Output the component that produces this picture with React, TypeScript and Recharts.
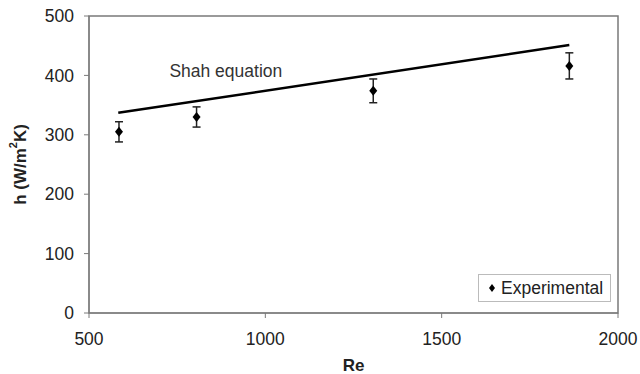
import {
  ComposedChart,
  ErrorBar,
  Legend,
  Line,
  ReferenceArea,
  ReferenceDot,
  Scatter,
  XAxis,
  YAxis,
} from "recharts";

// experimental points
const reValues = [585, 805, 1306, 1862];
const hValues = [305, 330, 374, 416];
const hErrors = [17, 17, 20, 22];

// Shah equation (straight line)
const shahRe = [583, 1862];
const shahH = [337, 451];

const xTicks = [500, 1000, 1500, 2000];
const yTicks = [0, 100, 200, 300, 400, 500];

const expData = reValues.map((re, i) => ({ re, h: hValues[i], err: hErrors[i] }));
const shahData = shahRe.map((re, i) => ({ re, shah: shahH[i] }));

const FONT = "'Liberation Sans', Arial, sans-serif";
const AXIS = "#7a7a7a";
const FS = 17.5;

function YLabel({ viewBox }: any) {
  const cx = 20;
  const cy = viewBox.y + viewBox.height / 2;
  return (
    <text
      x={cx}
      y={cy}
      transform={`rotate(-90, ${cx}, ${cy})`}
      textAnchor="middle"
      dominantBaseline="central"
      fontFamily={FONT}
      fontWeight="bold"
      fontSize={17}
      fill="#222"
    >
      h (W/m
      <tspan fontSize={11} dy={-7}>2</tspan>
      <tspan dy={7}>K)</tspan>
    </text>
  );
}

// small diamond marker
function Diamond({ cx, cy }: any) {
  return <polygon points={`${cx},${cy - 5} ${cx + 4},${cy} ${cx},${cy + 5} ${cx - 4},${cy}`} fill="#000" />;
}

function ExpLegend() {
  return (
    <div
      style={{
        border: "1px solid #bbb",
        background: "#fff",
        width: 133,
        height: 28,
        display: "flex",
        alignItems: "center",
        fontFamily: FONT,
        fontSize: FS,
        color: "#222",
        boxSizing: "border-box",
      }}
    >
      <svg width={22} height={12}>
        <polygon points="13,2 16,6 13,10 10,6" fill="#000" />
      </svg>
      <span>Experimental</span>
    </div>
  );
}

export default function App() {
  return (
    <div style={{ position: "absolute", left: 0, top: 0, background: "#fff" }}>
      <ComposedChart
        width={640}
        height={374}
        data={expData}
        margin={{ top: 16, right: 22, bottom: 0, left: 0 }}
      >
        <XAxis
          dataKey="re"
          type="number"
          domain={[500, 2000]}
          ticks={xTicks}
          height={61}
          stroke={AXIS}
          tickSize={5}
          tickMargin={15}
          tick={{ fill: "#222", fontSize: FS, fontFamily: FONT }}
          label={{
            value: "Re",
            position: "insideBottom",
            offset: 3,
            fill: "#222",
            fontSize: 17,
            fontWeight: "bold",
            fontFamily: FONT,
          }}
        />
        <YAxis
          type="number"
          domain={[0, 500]}
          ticks={yTicks}
          width={89}
          stroke={AXIS}
          tickSize={5}
          tickMargin={10}
          tick={{ fill: "#222", fontSize: FS, fontFamily: FONT }}
          label={<YLabel />}
        />
        <ReferenceArea
          x1={500}
          x2={2000}
          y1={0}
          y2={500}
          fill="none"
          stroke={AXIS}
          strokeWidth={1.5}
          ifOverflow="visible"
        />
        <Line
          data={shahData}
          dataKey="shah"
          type="linear"
          stroke="#000"
          strokeWidth={2.5}
          dot={false}
          isAnimationActive={false}
          legendType="none"
        />
        <Scatter
          dataKey="h"
          fill="#000"
          shape={<Diamond />}
          isAnimationActive={false}
          legendType="diamond"
          name="Experimental"
        >
          <ErrorBar dataKey="err" direction="y" width={4} stroke="#222" strokeWidth={1.5} />
        </Scatter>
        <ReferenceDot
          x={888}
          y={407}
          r={0}
          ifOverflow="visible"
          label={{
            value: "Shah equation",
            position: "center",
            fill: "#333",
            fontSize: FS,
            fontFamily: FONT,
          }}
        />
        <Legend
          layout="horizontal"
          verticalAlign="middle"
          align="center"
          content={<ExpLegend />}
          wrapperStyle={{ left: 478, top: 274, width: 133, height: 28 }}
        />
      </ComposedChart>
    </div>
  );
}
